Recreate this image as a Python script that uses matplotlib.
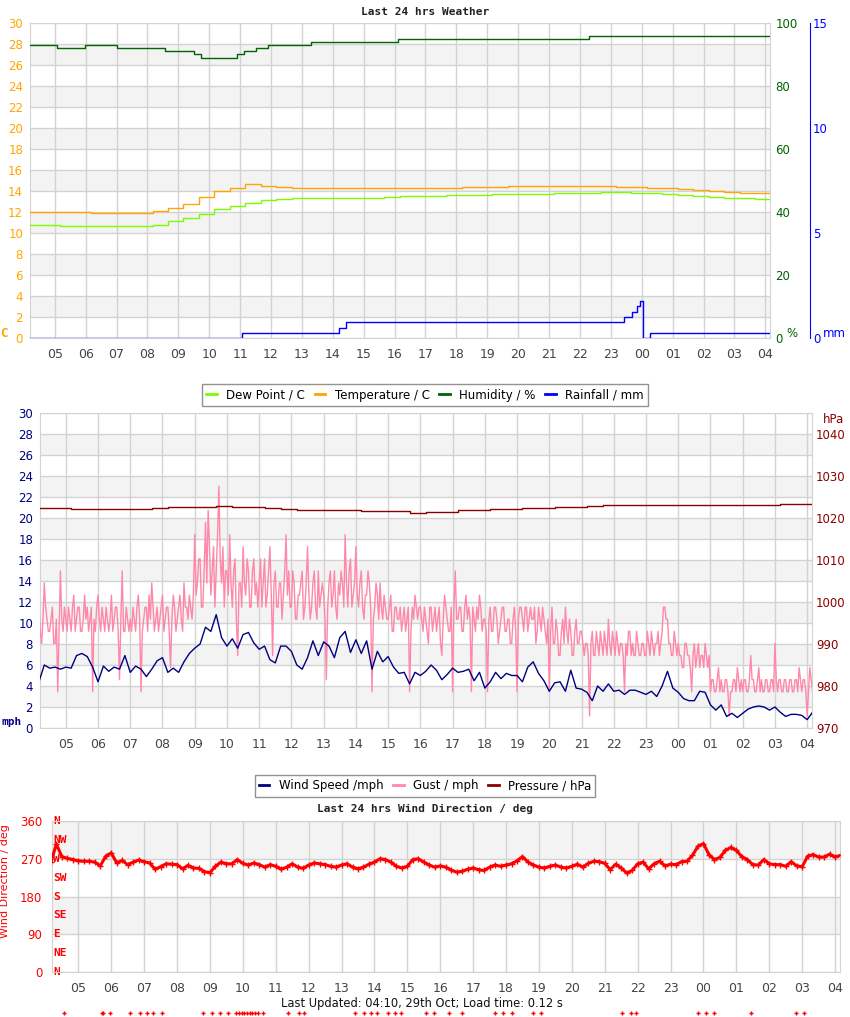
import matplotlib
matplotlib.use("Agg")
import matplotlib.pyplot as plt
import numpy as np

# time axis: hours counted from 00:00 of the first day
START = 4 + 10 / 60          # first sample 04:10
X_MIN, X_MAX = 4.2, 28.15
hours = list(range(5, 29))
hour_labels = [f"{h % 24:02d}" for h in hours]

# ---- panel 1: temperature / dew point (30 min samples, C)
temp_c = [12.0, 12.0, 12.0, 12.0, 11.9, 11.9, 11.9, 11.9, 12.1, 12.4,
          12.8, 13.4, 14.0, 14.3, 14.7, 14.5, 14.4, 14.3, 14.3, 14.3,
          14.3, 14.3, 14.3, 14.3, 14.3, 14.3, 14.3, 14.3, 14.4, 14.4,
          14.4, 14.5, 14.5, 14.5, 14.5, 14.5, 14.5, 14.5, 14.4, 14.4,
          14.3, 14.3, 14.2, 14.1, 14.0, 13.9, 13.8, 13.8, 13.7]
dew_c = [10.8, 10.8, 10.7, 10.7, 10.7, 10.7, 10.7, 10.7, 10.8, 11.1,
         11.4, 11.8, 12.3, 12.6, 12.9, 13.1, 13.2, 13.3, 13.3, 13.3,
         13.3, 13.3, 13.3, 13.4, 13.5, 13.5, 13.5, 13.6, 13.6, 13.6,
         13.7, 13.7, 13.7, 13.7, 13.8, 13.8, 13.8, 13.9, 13.9, 13.8,
         13.8, 13.7, 13.6, 13.5, 13.4, 13.3, 13.3, 13.2, 13.2]
# humidity changes (time, %)
hum_t = [4.17, 5.08, 5.99, 7.03, 8.58, 9.52, 9.72, 10.89, 11.11, 11.5,
         11.89, 13.29, 16.1, 22.3, 28.17]
hum_v = [93, 92, 93, 92, 91, 90, 89, 90, 91, 92, 93, 94, 95, 96, 96]
# rainfall changes (time, mm)
rain_t = [4.17, 11.05, 14.2, 14.42, 23.43, 23.67, 23.83, 23.93, 24.05,
          24.28, 28.17]
rain_v = [0, 0.25, 0.5, 0.75, 1.0, 1.25, 1.5, 1.75, 0, 0.22, 0.22]

# ---- panel 2: wind (10 min samples, mph), gust (2.5 min, knots), pressure (30 min, hPa)
wind_mph = [4.4, 6.0, 5.7, 5.8, 5.6,
            5.8, 5.7, 6.9, 7.1, 6.8, 5.8,
            4.4, 5.9, 5.4, 5.8, 5.6, 6.9,
            5.3, 5.9, 5.6, 4.9, 5.6, 6.4,
            6.7, 5.3, 5.7, 5.3, 6.3, 7.1,
            7.6, 8.0, 9.6, 9.2, 10.8, 8.6,
            7.8, 8.5, 7.6, 8.9, 9.1, 8.1,
            7.5, 7.8, 6.5, 6.2, 7.8, 7.8,
            7.3, 6.0, 5.6, 6.7, 8.3, 6.9,
            8.2, 7.8, 6.7, 8.6, 9.2, 7.2,
            8.4, 7.1, 8.3, 5.6, 7.3, 6.3,
            6.8, 5.8, 5.2, 5.3, 4.2, 5.3,
            5.0, 5.4, 6.0, 5.5, 4.6, 5.1,
            5.7, 5.3, 5.4, 5.6, 4.5, 5.3,
            3.8, 4.4, 5.3, 4.7, 5.2, 5.0,
            5.0, 4.4, 5.8, 6.3, 5.2, 4.5,
            3.5, 4.3, 4.4, 3.5, 5.5, 3.8,
            3.7, 3.4, 2.6, 4.0, 3.5, 4.2,
            3.5, 3.6, 3.2, 3.6, 3.6, 3.4,
            3.2, 3.5, 3.0, 4.0, 5.4, 3.8,
            3.4, 2.8, 2.6, 2.6, 3.5, 3.4,
            2.2, 1.7, 2.2, 1.1, 1.4, 1.0,
            1.4, 1.8, 2.0, 2.1, 2.0, 1.7,
            2.0, 1.5, 1.1, 1.3, 1.3, 1.2,
            0.8, 1.5]
gust_kn = [10, 8, 7, 9, 12, 10, 9, 8, 8, 9, 10, 7, 7, 9, 3, 8, 13, 9, 8, 10,
           9, 8, 10, 9, 8, 10, 11, 8, 9, 10, 10, 8, 8, 9, 11, 9, 10, 8, 9, 10, 3, 9, 8, 10,
           11, 9, 8, 10, 9, 8, 10, 9, 8, 9, 11, 8, 9, 10, 10, 8, 4, 9, 13, 8, 8, 10, 9, 8,
           9, 8, 10, 9, 8, 10, 11, 9, 3, 8, 9, 10, 10, 8, 11, 9, 12, 10, 8, 9, 10, 8, 9, 10,
           11, 8, 9, 10, 10, 8, 5, 9, 11, 10, 8, 9, 10, 11, 9, 8, 12, 10, 10, 9, 11, 10, 9, 11,
           16, 11, 12, 14, 14, 10, 10, 13, 17, 12, 18, 15, 11, 13, 15, 10, 13, 16, 20, 14, 12, 15, 10, 13,
           13, 11, 16, 12, 10, 13, 14, 9, 6, 12, 12, 10, 15, 12, 11, 14, 13, 10, 10, 13, 14, 11, 12, 10,
           12, 14, 10, 12, 14, 10, 11, 13, 15, 11, 6, 12, 13, 10, 10, 12, 12, 9, 11, 13, 16, 11, 13, 10,
           10, 13, 12, 9, 9, 11, 11, 12, 13, 9, 10, 12, 15, 11, 9, 10, 12, 13, 10, 9, 13, 10, 11, 12,
           11, 9, 4, 10, 12, 13, 10, 11, 13, 10, 9, 12, 11, 13, 12, 10, 16, 12, 10, 13, 14, 10, 11, 12,
           15, 11, 10, 12, 13, 10, 9, 11, 11, 13, 12, 10, 3, 9, 10, 12, 11, 9, 12, 10, 9, 11, 10, 9,
           9, 10, 11, 8, 8, 10, 10, 9, 9, 10, 8, 9, 10, 8, 9, 10, 3, 8, 10, 9, 11, 10, 9, 10,
           10, 9, 8, 10, 9, 8, 7, 10, 10, 8, 9, 10, 8, 9, 10, 7, 6, 9, 11, 10, 9, 8, 8, 10,
           3, 10, 13, 9, 9, 10, 10, 8, 8, 10, 11, 9, 10, 9, 3, 10, 9, 8, 10, 9, 11, 10, 8, 9,
           9, 8, 3, 9, 10, 8, 8, 10, 10, 9, 7, 8, 9, 10, 10, 8, 8, 9, 9, 7, 7, 9, 10, 8,
           3, 9, 10, 10, 9, 8, 10, 10, 8, 9, 10, 9, 9, 10, 7, 8, 10, 9, 8, 10, 9, 8, 7, 9,
           3, 8, 10, 7, 7, 9, 8, 6, 6, 8, 9, 7, 10, 8, 7, 9, 8, 6, 6, 8, 9, 7, 7, 8,
           8, 7, 6, 7, 7, 6, 1, 7, 8, 6, 6, 8, 7, 6, 8, 7, 6, 8, 7, 6, 9, 7, 6, 8,
           7, 6, 8, 7, 6, 7, 7, 6, 3, 7, 6, 8, 8, 6, 7, 6, 6, 8, 7, 6, 6, 7, 7, 6,
           6, 8, 7, 6, 8, 7, 6, 7, 7, 8, 6, 7, 8, 10, 10, 9, 9, 7, 7, 6, 6, 8, 7, 6,
           7, 6, 6, 5, 5, 7, 7, 6, 6, 5, 3, 6, 7, 5, 6, 7, 5, 6, 6, 5, 7, 6, 5, 6,
           3, 4, 4, 3, 3, 4, 5, 3, 4, 3, 3, 4, 4, 3, 1, 3, 3, 4, 4, 3, 5, 4, 3, 4,
           3, 4, 4, 3, 3, 4, 6, 4, 4, 3, 3, 4, 5, 3, 4, 3, 3, 4, 4, 3, 3, 4, 4, 3,
           7, 4, 3, 4, 4, 3, 3, 4, 4, 3, 3, 4, 4, 3, 3, 4, 4, 3, 5, 4, 3, 4, 4, 3,
           1, 3, 5, 4, 3]
KN_TO_MPH = 1.1508
pressure_hpa = [1022.5, 1022.5, 1022.2, 1022.2, 1022.2, 1022.1, 1022.2, 1022.5,
                1022.7, 1022.7, 1022.7, 1022.8, 1022.7, 1022.7, 1022.4, 1022.1,
                1021.8, 1021.8, 1021.8, 1021.8, 1021.6, 1021.6, 1021.6, 1021.3,
                1021.5, 1021.5, 1021.9, 1021.9, 1022.2, 1022.2, 1022.5, 1022.5,
                1022.7, 1022.7, 1022.9, 1023.0, 1023.0, 1023.0, 1023.0, 1023.2,
                1023.2, 1023.2, 1023.2, 1023.2, 1023.2, 1023.2, 1023.3, 1023.4,
                1023.3]

# ---- panel 3: wind direction (10 min samples, deg)
wind_dir = [262, 305, 275, 271, 268,
            265, 264, 264, 262, 253, 276,
            284, 260, 266, 256, 262, 267,
            263, 260, 245, 251, 258, 257,
            256, 246, 254, 248, 247, 239,
            237, 252, 262, 258, 258, 268,
            259, 255, 260, 256, 250, 256,
            252, 245, 250, 258, 250, 247,
            255, 260, 258, 256, 252, 250,
            255, 258, 250, 246, 250, 257,
            262, 270, 268, 262, 252, 248,
            252, 268, 270, 262, 255, 250,
            253, 250, 243, 238, 240, 245,
            248, 244, 242, 250, 255, 252,
            255, 258, 265, 275, 262, 255,
            250, 248, 252, 255, 250, 248,
            252, 257, 250, 259, 264, 263,
            259, 244, 257, 248, 236, 242,
            258, 262, 246, 258, 264, 253,
            257, 256, 263, 264, 278, 300,
            306, 280, 268, 273, 290, 297,
            290, 275, 268, 256, 255, 268,
            258, 256, 256, 252, 263, 253,
            251, 276, 280, 274, 274, 281,
            274, 278]
# samples with no direction, drawn under the chart
calm_t = [4.55, 5.72, 5.76, 5.97, 6.58, 6.88, 7.10, 7.27, 7.54, 8.79,
          9.05, 9.31, 9.56, 9.80, 9.88, 9.97, 10.05, 10.13, 10.21, 10.29,
          10.37, 10.45, 10.61, 11.37, 11.70, 11.87, 13.42, 13.69, 13.90,
          14.08, 14.42, 14.63, 14.81, 15.57, 15.81, 16.27, 16.66, 17.66,
          17.90, 18.18, 18.81, 19.06, 21.51, 21.79, 21.94, 23.84, 24.09,
          24.32, 25.43, 26.80, 27.05]
CALM_DEG = -98
compass = ["N", "NE", "E", "SE", "S", "SW", "W", "NW", "N"]

W, H = 850, 1017
fig = plt.figure(figsize=(W / 100, H / 100), dpi=100)

GRID = "#d3d3d3"
BAND = "#f3f3f3"
TICK = "#444444"
MONO = "DejaVu Sans Mono"


def px_axes(left, top, right, bottom):
    return fig.add_axes([left / W, 1 - bottom / H, (right - left) / W, (bottom - top) / H])


def base_grid(ax, ymax, ystep, bands):
    ax.set_xlim(X_MIN, X_MAX)
    for lo, hi in bands:
        ax.axhspan(lo, hi, color=BAND, zorder=0, lw=0)
    for y in np.arange(0, ymax + 0.01, ystep):
        ax.axhline(y, color=GRID, lw=1, zorder=0.5)
    for h in hours:
        ax.axvline(h, color=GRID, lw=1, zorder=0.5)
    for s in ax.spines.values():
        s.set_color(GRID)
    ax.set_xticks(hours)
    ax.set_xticklabels(hour_labels)
    ax.tick_params(axis="x", length=0, pad=7, labelsize=9, labelcolor=TICK)


def legend(handles, labels, y_px, ncol):
    fig.legend(handles, labels, loc="center", bbox_to_anchor=(0.5, 1 - y_px / H),
               ncol=ncol, fontsize=8.5, frameon=True, fancybox=False,
               edgecolor="#777777", handlelength=0.9, handletextpad=0.8,
               columnspacing=0.8, borderpad=0.35)


# ================= panel 1
ax1 = px_axes(30, 23, 770, 338)
base_grid(ax1, 30, 2, [(y, y + 2) for y in range(2, 30, 4)])
ax1.set_ylim(0, 30)
ax1.set_yticks(range(0, 31, 2))
ax1.tick_params(axis="y", length=0, pad=5, labelsize=8.5, labelcolor="#ffa500")
t30 = START + np.arange(len(temp_c)) / 2
ax1.plot(t30, dew_c, color="#7cfc00", lw=1, drawstyle="steps-post", zorder=3)
ax1.plot(t30, temp_c, color="#ffa500", lw=1, drawstyle="steps-post", zorder=3)
ax1.text(-0.03, 0.015, "C", transform=ax1.transAxes, color="#ffa500",
         fontsize=9, fontweight="bold", family=MONO, ha="right", va="center")

ax1h = ax1.twinx()
ax1h.set_xlim(X_MIN, X_MAX)
ax1h.set_ylim(0, 100)
ax1h.set_yticks(range(0, 101, 20))
ax1h.tick_params(axis="y", length=0, pad=4, labelsize=8.5, labelcolor="#006400")
for s in ax1h.spines.values():
    s.set_visible(False)
ax1h.step(hum_t, hum_v, where="post", color="#006400", lw=1, zorder=3)
ax1h.text(1.022, 0.015, "%", transform=ax1h.transAxes, color="#006400",
          fontsize=8.5, ha="left", va="center")

ax1r = ax1.twinx()
ax1r.set_xlim(X_MIN, X_MAX)
ax1r.set_ylim(0, 15)
ax1r.set_yticks([0, 5, 10, 15])
for s in ax1r.spines.values():
    s.set_visible(False)
ax1r.spines["right"].set_visible(True)
ax1r.spines["right"].set_position(("outward", 28.8))
ax1r.spines["right"].set_color("#0000ff")
ax1r.tick_params(axis="y", length=0, pad=2, labelsize=8.5, labelcolor="#0000ff")
ax1r.step(rain_t, rain_v, where="post", color="#0000ff", lw=1, zorder=3)
ax1r.text(1.072, 0.015, "mm", transform=ax1r.transAxes, color="#0000ff",
          fontsize=8.5, ha="left", va="center")

fig.text(0.5, 1 - 12 / H, "Last 24 hrs Weather", ha="center", va="center",
         fontsize=8, fontweight="bold", family=MONO, color="#222222")

h1 = [plt.Line2D([], [], color=c, lw=2) for c in ["#7cfc00", "#ffa500", "#006400", "#0000ff"]]
legend(h1, ["Dew Point / C", "Temperature / C", "Humidity / %", "Rainfall / mm"], 395, 4)

# ================= panel 2
ax2 = px_axes(40, 413, 812, 728)
base_grid(ax2, 30, 2, [(y, y + 2) for y in range(2, 30, 4)])
ax2.set_ylim(0, 30)
ax2.set_yticks(range(0, 31, 2))
ax2.tick_params(axis="y", length=0, pad=5, labelsize=8.5, labelcolor="#000080")
t_gust = START + np.arange(len(gust_kn)) / 24
t10 = START + np.arange(len(wind_mph)) / 6
ax2.plot(t_gust, np.array(gust_kn) * KN_TO_MPH, color="#ff88aa", lw=1, zorder=3)
ax2.plot(t10, wind_mph, color="#000080", lw=1, zorder=4)
ax2.text(-0.024, 0.02, "mph", transform=ax2.transAxes, color="#000080",
         fontsize=8, fontweight="bold", family=MONO, ha="right", va="center")

ax2p = ax2.twinx()
ax2p.set_xlim(X_MIN, X_MAX)
ax2p.set_ylim(970, 1045)
ax2p.set_yticks(range(970, 1041, 10))
for s in ax2p.spines.values():
    s.set_visible(False)
ax2p.tick_params(axis="y", length=0, pad=3, labelsize=8.5, labelcolor="#8b0000")
ax2p.step(START + np.arange(len(pressure_hpa)) / 2, pressure_hpa, where="post",
          color="#8b0000", lw=1, zorder=3)
ax2p.text(1.014, 0.98, "hPa", transform=ax2p.transAxes, color="#8b0000",
          fontsize=8.5, ha="left", va="center")

h2 = [plt.Line2D([], [], color=c, lw=2) for c in ["#000080", "#ff88aa", "#8b0000"]]
legend(h2, ["Wind Speed /mph", "Gust / mph", "Pressure / hPa"], 786, 3)

# ================= panel 3
ax3 = px_axes(52, 821, 840, 972)
base_grid(ax3, 360, 90, [(270, 360), (90, 180)])
ax3.set_ylim(0, 360)
ax3.set_yticks(range(0, 361, 90))
ax3.tick_params(axis="y", length=0, pad=7, labelsize=8.5, labelcolor="#ff0000")
ax3.set_ylabel("Wind Direction / deg", color="#ff0000", fontsize=8)
ax3.yaxis.set_label_coords(-0.053, 0.6)
t10d = START + np.arange(len(wind_dir)) / 6
ax3.plot(t10d, wind_dir, color="#ff0000", lw=2.2, marker="+", ms=4, mew=1, zorder=3)
ax3.plot(calm_t, [CALM_DEG] * len(calm_t), ls="none", color="#ff0000", marker="+",
         ms=3, mew=1, clip_on=False)
for i, name in enumerate(compass):
    ax3.text(X_MIN + 0.03, i * 45, name, color="#ff0000", fontsize=8,
             fontweight="bold", family=MONO, ha="left", va="center", zorder=2)

fig.text(0.5, 1 - 809 / H, "Last 24 hrs Wind Direction / deg", ha="center",
         va="center", fontsize=8, fontweight="bold", family=MONO, color="#222222")
fig.text(0.496, 1 - 1004 / H, "Last Updated: 04:10, 29th Oct; Load time: 0.12 s",
         ha="center", va="center", fontsize=8.3, color="#111111")

fig.savefig("out.png", dpi=100)
